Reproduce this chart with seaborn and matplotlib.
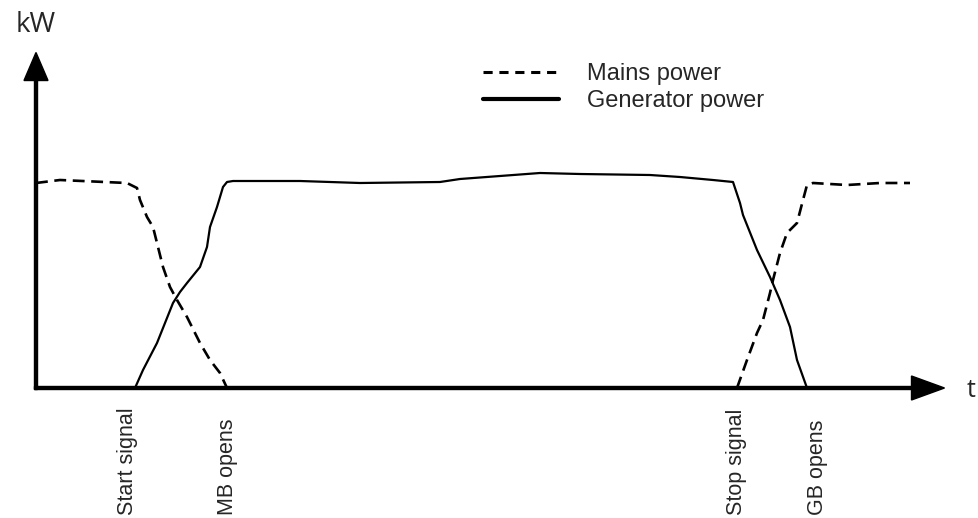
import numpy as np
import pandas as pd
import matplotlib
matplotlib.use("Agg")
import matplotlib.pyplot as plt
import seaborn as sns
from matplotlib.lines import Line2D

# 電源切替の模式図 (t: 時間, P: kW 任意単位)
mains_t1 = [0, 24, 91, 101, 104, 111, 117, 122, 127, 134, 141, 151, 164, 174, 184, 191]
mains_p1 = [205, 208, 205, 200, 188, 171, 161, 141, 121, 101, 88, 71, 45, 28, 15, 0]
mains_t2 = [701, 711, 721, 727, 734, 737, 744, 751, 761, 767, 771, 777, 811, 844, 874]
mains_p2 = [0, 28, 55, 68, 95, 108, 135, 155, 165, 188, 203, 205, 203, 205, 205]

gen_t = [99, 107, 121, 137, 144, 151, 164, 171, 174, 181, 187, 191, 197, 264, 324, 404,
         424, 464, 504, 544, 614, 644, 677, 697, 704, 707, 721, 734, 744, 754, 761, 771]
gen_p = [0, 18, 45, 85, 96, 105, 121, 141, 161, 181, 201, 206, 207, 207, 205, 206,
         209, 212, 215, 214, 213, 211, 208, 206, 185, 173, 138, 111, 88, 61, 28, 0]

event_labels = ["Start signal", "MB opens", "Stop signal", "GB opens"]
event_t = [92, 192, 701, 782]

series_names = ["Mains power", "Generator power"]

df = pd.concat([
    pd.DataFrame({"t": mains_t1, "P": mains_p1, "series": series_names[0], "seg": 0}),
    pd.DataFrame({"t": mains_t2, "P": mains_p2, "series": series_names[0], "seg": 1}),
    pd.DataFrame({"t": gen_t, "P": gen_p, "series": series_names[1], "seg": 2}),
], ignore_index=True)

sns.set_style("white")
plt.rcParams["font.family"] = ["Liberation Sans", "DejaVu Sans"]

fig = plt.figure(figsize=(9.79, 5.18), dpi=100)
ax = fig.add_axes([0, 0, 1, 1])

sns.lineplot(data=df, x="t", y="P", style="series", units="seg", estimator=None,
             sort=False, color="black", linewidth=1.6, legend=False,
             dashes={"Mains power": (4.5, 2.5), "Generator power": ""}, ax=ax)
# 破線は少し太め
for ln in ax.lines:
    if ln.get_linestyle() != "-":
        ln.set_linewidth(1.9)

# 軸の矢印
ax.arrow(-1.5, 0, 910, 0, width=3, head_width=24, head_length=33,
         length_includes_head=True, color="black", zorder=3)
ax.arrow(0, -1.5, 0, 337, width=3, head_width=24, head_length=28,
         length_includes_head=True, color="black", zorder=3)

ax.text(0, 356, "kW", fontsize=20, family=["Open Sans", "DejaVu Sans"],
        ha="center", va="baseline")
ax.text(935, -9, "t", fontsize=18, family=["Open Sans", "DejaVu Sans"],
        ha="center", va="baseline")

for lab, t in zip(event_labels, event_t):
    ax.text(t, -127, lab, rotation=90, fontsize=15.5, ha="center", va="bottom")

handles = [Line2D([], [], color="black", lw=2.2, dashes=(3, 2.2)),
           Line2D([], [], color="black", lw=3)]
ax.legend(handles, series_names, loc="upper left", frameon=False, fontsize=17,
          bbox_to_anchor=(483 / 979, 1 - 63 / 518), borderpad=0, borderaxespad=0,
          handlelength=3.2, handletextpad=1.2, labelspacing=0.22)

ax.set_xlim(-36, 943)
ax.set_ylim(-130, 388)
ax.axis("off")

fig.savefig("out.png", dpi=100)
